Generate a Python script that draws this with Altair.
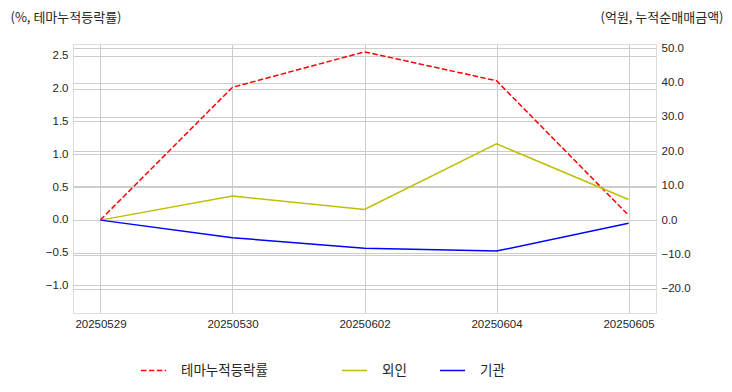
import altair as alt
import pandas as pd

dates = ["20250529", "20250530", "20250602", "20250604", "20250605"]
theme_rate = [0.0, 2.02, 2.56, 2.12, 0.07]
foreign_net = [0.0, 7.0, 3.1, 22.2, 6.0]
inst_net = [0.0, -5.1, -8.2, -9.0, -0.9]

left_name = "테마누적등락률"
right_names = ["외인", "기관"]
left_ticks = [-1.0, -0.5, 0.0, 0.5, 1.0, 1.5, 2.0, 2.5]
right_ticks = [-20.0, -10.0, 0.0, 10.0, 20.0, 30.0, 40.0, 50.0]

df_left = pd.DataFrame({"date": dates, "value": theme_rate, "series": left_name})
df_right = pd.concat([
    pd.DataFrame({"date": dates, "value": foreign_net, "series": right_names[0]}),
    pd.DataFrame({"date": dates, "value": inst_net, "series": right_names[1]}),
])

TXT = "#262626"
GRID = "#cccccc"
NUMFONT = "Liberation Sans"
KFONT = "Noto Sans CJK KR"

x_enc = alt.X(
    "date:O",
    sort=dates,
    scale=alt.Scale(type="point", padding=0.208),
    axis=alt.Axis(title=None, labelAngle=0, ticks=False, domain=False, grid=True,
                  gridColor=GRID, labelPadding=5, labelFontSize=11.5,
                  labelFont=NUMFONT, labelColor=TXT),
)

left = alt.Chart(df_left).mark_line(strokeWidth=1.5, strokeDash=[5.5, 2.4]).encode(
    x=x_enc,
    y=alt.Y(
        "value:Q",
        scale=alt.Scale(domain=[-1.42, 2.68], nice=False, zero=False),
        axis=alt.Axis(
            orient="left", values=left_ticks, format=".1f", ticks=False, domain=False,
            grid=True, gridColor=GRID, labelPadding=5, labelFontSize=11.5,
            labelFont=NUMFONT, labelColor=TXT,
            title="(%, 테마누적등락률)", titleAngle=0, titleAlign="left",
            titleBaseline="middle", titleX=-63, titleY=-27, titleFont=KFONT,
            titleFontSize=13, titleFontWeight="normal", titleColor=TXT,
        ),
    ),
    color=alt.Color(
        "series:N",
        scale=alt.Scale(domain=[left_name], range=["#ff0000"]),
        legend=alt.Legend(
            title=None, orient="none", legendX=67, legendY=313, direction="horizontal",
            symbolType="stroke", symbolSize=625, symbolStrokeWidth=1.5,
            symbolDash=[5.5, 2.4], labelFont=KFONT, labelFontSize=13.5,
            labelColor=TXT, labelOffset=14, padding=0,
        ),
    ),
)

right = alt.Chart(df_right).mark_line(strokeWidth=1.5).encode(
    x=x_enc,
    y=alt.Y(
        "value:Q",
        scale=alt.Scale(domain=[-27.0, 51.2], nice=False, zero=False),
        axis=alt.Axis(
            orient="right", values=right_ticks, format=".1f", ticks=False, domain=False,
            grid=True, gridColor=GRID, labelPadding=5, labelFontSize=11.5,
            labelFont=NUMFONT, labelColor=TXT,
            title="(억원, 누적순매매금액)", titleAngle=0, titleAlign="right",
            titleBaseline="middle", titleX=67, titleY=-27, titleFont=KFONT,
            titleFontSize=13, titleFontWeight="normal", titleColor=TXT,
        ),
    ),
    color=alt.Color(
        "series:N",
        sort=right_names,
        scale=alt.Scale(domain=right_names, range=["#bfbf00", "#0000ff"]),
        legend=alt.Legend(
            title=None, orient="none", legendX=268, legendY=313, direction="horizontal",
            symbolType="stroke", symbolSize=625, symbolStrokeWidth=1.5,
            labelFont=KFONT, labelFontSize=13.5, labelColor=TXT, labelOffset=14,
            columnPadding=30, padding=0,
        ),
    ),
)

chart = alt.layer(left, right).resolve_scale(
    y="independent", color="independent"
).properties(
    width=583, height=269,
    autosize=alt.AutoSizeParams(type="none"),
    padding={"left": 65, "top": 36, "right": 68, "bottom": 70},
).configure_view(
    stroke=GRID, strokeWidth=1.25
).configure(background="white")

chart.save("out.html", embed_options={"renderer": "svg", "actions": False})
